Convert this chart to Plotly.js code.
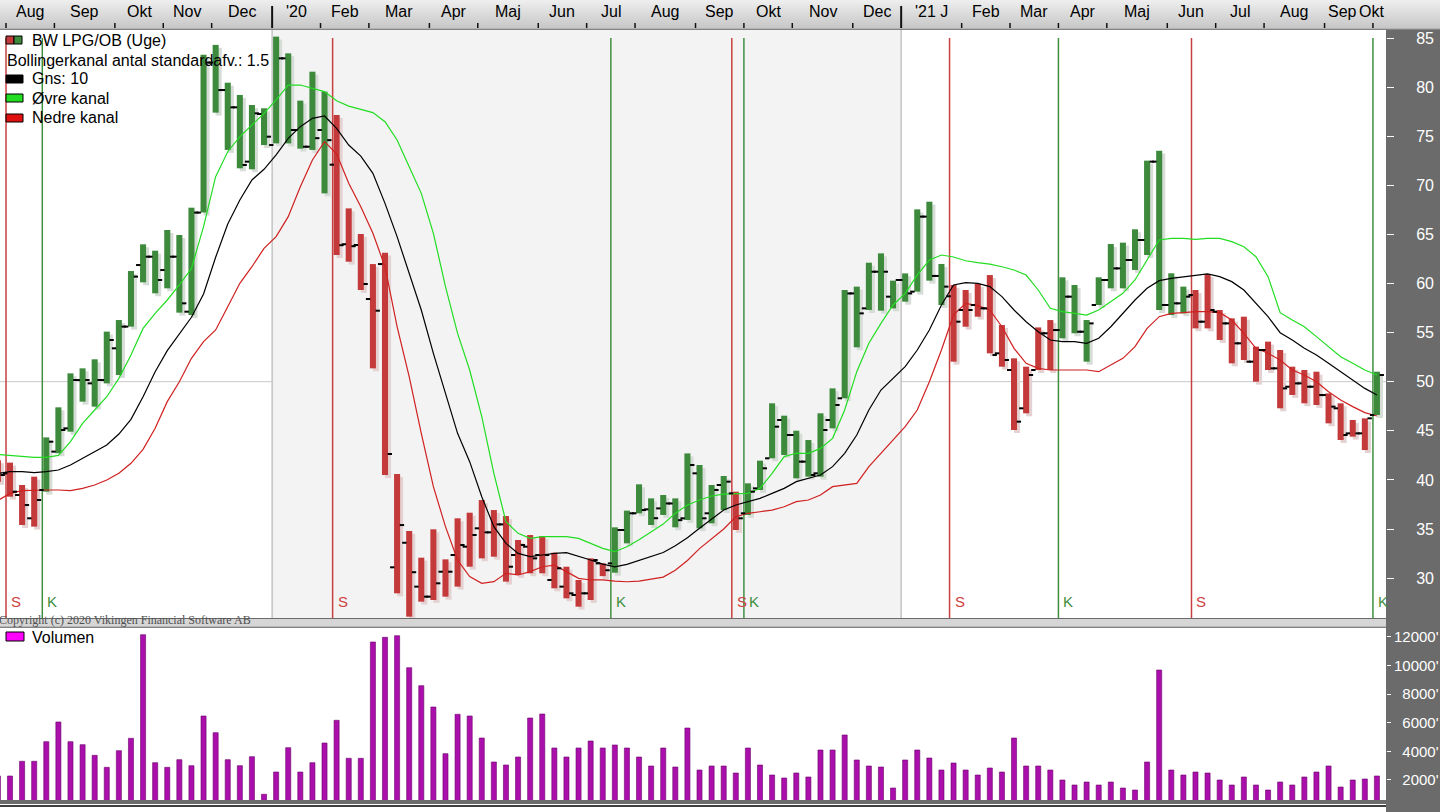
<!DOCTYPE html>
<html><head><meta charset="utf-8">
<script src="https://cdn.plot.ly/plotly-3.0.1.min.js"></script>
<style>html,body{margin:0;padding:0;background:#fff;overflow:hidden}#chart{width:1440px;height:812px}</style>
</head><body><div id="chart"></div>
<script>
// ---- DATA (weekly bars, first entry is the partly hidden week before Aug 2019) ----
const highP = [42.0,41.76,39.48,40.33,44.33,47.39,50.85,51.36,52.28,55.1,56.28,61.27,63.99,63.34,65.45,64.94,67.72,83.3,84.3,80.45,79.2,78.18,77.84,85.14,83.44,78.62,81.57,79.54,
77.16,67.65,65.04,61.98,63.14,40.6,34.8,32.08,34.97,31.91,36.09,36.66,37.95,36.93,36.32,33.88,34.39,34.29,32.59,31.16,29.81,32.01,31.51,
35.17,36.87,39.55,38.12,38.46,38.12,42.7,41.52,39.48,40.4,38.8,39.65,41.96,47.8,46.54,45.01,44.06,46.78,49.32,59.34,59.68,62.12,63.07,60.29,61.03,67.55,68.33,61.99,
59.85,59.34,59.95,60.86,55.77,52.38,51.53,55.53,56.28,60.63,59.85,56.28,60.63,64.02,64.16,65.52,72.51,73.53,61.04,59.68,
59.34,60.97,57.3,56.45,56.62,53.57,54.08,53.23,51.53,51.19,51.02,48.81,47.8,46.1,46.27,51.02];
const lowP = [39.8,38.29,35.41,35.24,38.8,42.71,44.91,47.97,47.46,49.83,50.68,55.61,60.12,59.0,59.51,57.03,56.79,67.22,77.4,73.6,71.73,71.63,74.1,74.27,74.27,73.73,73.6,69.18,
62.9,62.22,59.34,51.36,40.5,28.45,26.07,27.6,27.77,28.11,29.13,31.16,32.01,32.18,29.64,30.32,30.49,30.49,28.96,27.94,27.09,27.77,30.2,
30.55,33.54,36.6,35.41,36.43,35.17,35.92,35.07,35.58,36.93,34.9,36.43,38.97,42.2,42.54,40.16,40.33,40.33,45.25,48.31,53.5,57.3,57.23,57.47,58.15,59.17,60.29,57.81,
52.04,55.6,56.62,52.89,51.53,45.08,46.78,51.19,51.19,54.42,54.93,52.04,57.81,59.51,59.51,61.38,62.9,57.3,56.79,56.96,
55.43,55.43,54.25,51.87,52.21,50.0,51.19,47.29,48.65,47.8,47.63,45.76,44.06,44.4,43.04,46.61];
const openP = [41.5,40.67,38.46,36.09,38.97,42.88,45.25,50.17,49.83,50.17,53.4,55.61,61.88,62.73,61.37,62.73,57.13,67.22,82.5,79.7,77.94,72.41,77.26,74.1,82.93,75.63,73.93,75.63,
72.1,64.0,63.92,58.42,61.98,31.1,33.6,29.13,28.11,30.65,32.35,33.2,35.07,34.66,35.47,32.35,33.2,32.35,29.81,29.13,28.28,28.45,31.5,
31.5,34.9,36.6,37.0,37.1,37.6,36.09,40.67,36.6,39.48,38.63,36.6,39.14,42.2,46.1,44.57,41.86,40.67,46.1,48.31,58.99,57.47,61.2,58.66,60.36,59.17,66.81,60.77,
58.7,57.3,57.81,57.47,52.89,51.19,47.29,51.19,54.93,55.26,58.66,55.09,57.81,60.36,61.54,62.39,64.43,72.41,57.81,57.98,
58.83,56.11,57.13,55.94,53.91,52.04,53.23,51.36,49.49,49.83,49.49,48.64,47.29,44.74,44.74,46.61];
const closeP = [40.5,38.8,37.44,37.95,43.89,45.08,50.17,50.17,50.17,54.25,55.61,60.7,62.73,60.36,62.73,57.98,67.22,82.5,79.7,77.94,72.07,77.33,74.95,82.93,75.63,73.93,74.8,74.6,
63.9,63.8,59.95,57.23,42.64,35.4,30.6,28.11,29.47,30.65,33.37,34.39,34.66,35.47,31.16,33.37,32.01,32.35,31.0,28.45,28.45,31.84,30.8,
34.9,36.6,36.93,36.1,37.6,35.9,41.52,36.09,38.97,39.82,36.09,38.8,41.18,45.42,44.57,41.86,40.5,45.08,47.63,58.99,56.96,61.2,61.2,60.36,58.99,66.81,60.77,59.68,
56.11,57.3,57.47,52.72,52.21,45.93,50.68,54.93,55.26,58.66,55.09,55.94,60.36,61.54,62.39,64.43,72.41,57.81,57.98,58.66,
56.11,57.3,55.94,53.91,52.04,53.23,51.36,49.32,49.83,49.49,48.64,47.46,44.57,44.74,46.27,50.68];
const upperBand = [42.6,42.5,42.4,42.3,42.3,42.5,43.9,45.76,47.12,48.47,50.34,52.72,55.43,56.96,58.32,59.85,61.54,65.79,70.88,73.42,74.95,76.14,77.33,78.69,80.21,80.21,79.87,79.54,
78.6,78.07,77.73,77.4,76.48,74.61,71.9,69.18,65.11,59.68,54.92,51.19,46.44,40.67,35.75,34.56,34.05,34.22,34.22,34.22,34.05,33.54,33.03,
32.69,33.2,33.9,34.7,35.5,36.6,37.44,37.95,38.36,38.56,38.63,38.63,39.14,40.67,42.37,42.71,42.71,43.21,44.23,47.12,51.02,53.91,55.94,57.81,58.99,60.86,62.39,62.9,
62.7,62.32,62.12,61.98,61.71,61.38,60.86,59.34,57.47,57.13,56.96,56.79,57.3,58.15,59.0,60.36,62.39,64.43,64.6,64.6,
64.5,64.6,64.6,64.26,63.75,62.73,60.7,57.03,56.28,55.6,54.59,53.57,52.55,51.87,51.19,50.68];
const middleBand = [40.67,40.84,40.84,40.74,40.84,41.01,41.52,42.2,42.88,43.55,44.67,46.17,48.47,51.02,53.16,54.86,56.56,58.93,62.67,66.06,68.5,70.54,71.63,73.09,74.78,75.97,76.82,77.06,
75.8,74.1,72.98,71.22,68.16,64.77,61.04,57.3,52.89,48.81,44.74,41.86,38.29,35.24,33.54,32.52,32.18,32.35,32.52,32.59,32.25,31.84,31.43,
31.15,31.4,31.8,32.2,32.6,33.3,34.1,35.07,36.02,36.93,37.44,37.78,38.12,38.63,39.14,39.82,40.16,40.5,41.35,42.71,44.57,47.12,49.15,50.34,51.53,53.23,55.26,57.81,
59.85,60.08,60.02,59.68,58.66,57.3,56.11,55.09,54.25,54.08,54.08,53.91,54.42,55.6,56.96,58.32,59.51,60.29,60.53,60.7,
60.87,60.97,60.7,60.19,59.34,57.98,56.62,54.99,54.25,53.4,52.72,51.87,51.02,50.17,49.32,48.64];
const lowerBand = [37.9,38.63,38.9,38.97,38.97,38.97,38.9,39.14,39.48,39.99,40.67,41.69,43.11,45.25,47.97,50.0,52.38,54.08,55.27,57.64,60.02,61.71,63.58,64.77,66.81,69.86,72.58,74.44,
73.2,70.2,67.82,65.11,61.71,55.6,50.51,44.74,39.31,35.24,31.84,30.15,29.47,29.64,30.49,30.32,30.66,31.16,31.33,30.66,29.98,29.81,29.81,
29.7,29.63,29.7,29.9,30.1,30.8,31.8,33.0,34.0,35.0,36.25,36.6,36.76,36.93,37.27,37.78,37.95,38.46,39.31,39.48,39.65,41.35,42.71,44.06,45.42,47.12,50.0,53.23,
56.8,57.98,57.74,57.3,55.6,53.4,51.87,51.36,51.19,51.19,51.19,51.19,51.02,51.7,52.38,53.57,55.43,56.62,56.96,57.03,
57.13,57.13,57.03,56.28,54.93,53.4,52.89,52.21,51.19,50.68,50.0,48.98,48.13,47.46,46.85,46.51];
const volume = [2280,2280,3308,3308,4678,6056,4678,4469,3727,2888,4049,4916,12161,3210,2888,3420,3000,6476,5308,3420,3000,3629,1000,2559,4259,2559,3210,4587,
6175,3517,3517,11650,11979,12091,9853,8594,7105,3839,6594,6476,4937,3259,3049,3608,6336,6615,4238,3608,4238,4727,4238,
4448,4238,3608,2979,4238,2909,5636,2699,2979,2979,2490,4238,3049,2350,2140,2490,2210,4098,4098,5147,3399,2979,2909,1440,3399,4098,3538,2699,
3189,2699,2350,2839,2559,4937,2979,2979,2699,2000,1650,1860,1650,1860,1440,1300,3259,9692,2699,2350,
2559,2490,2000,1650,2210,1650,1300,1860,1650,2210,2559,2979,1510,2000,2070,2280];
// signals: week index and type (S = sell, K = buy)
const signalWeeks = [0,3,27,50,60,61,78,87,98,113];
const signalTypes = ['S','K','S','K','S','K','S','K','S','K'];
// top time axis: first week of each month
const monthStarts = [0,4,9,13,17,22,26,30,35,39,44,48,52,57,61,65,70,74,79,83,87,91,96,100,104,109,113];
const monthLabels = ['Aug','Sep','Okt','Nov','Dec',"'20",'Feb','Mar','Apr','Maj','Jun','Jul','Aug','Sep','Okt','Nov','Dec',"'21 J",'Feb','Mar','Apr','Maj','Jun','Jul','Aug','Sep','Okt'];
const yearStarts = [22,74];
const priceTicks = [30,35,40,45,50,55,60,65,70,75,80,85];
const volumeTicks = [2000,4000,6000,8000,10000,12000];
const legendTexts = ['BW LPG/OB (Uge)','Bollingerkanal antal standardafv.: 1.5','Gns: 10','Øvre kanal','Nedre kanal'];

// ---- GEOMETRY ----
const W = 1440, H = 812, PLOT_R = 1386;
const weekIndex = highP.map((_, k) => k - 1);
const X0 = -0.8267, X1 = 113.75;
const edge = -0.33;           // left edge of a week slot (signal lines / month ticks)
const px = p => p / PLOT_R;    // pixel -> paper x
const py = p => 1 - p / H;     // pixel -> paper y
const FONT = 'Liberation Sans, Arial, sans-serif';
const GREEN = '#3d8a3d', RED = '#c43a3a';

const barColors = weekIndex.map(w => {
  let t = 'S';
  signalWeeks.forEach((s, j) => { if (s <= w) t = signalTypes[j]; });
  return t === 'S' ? RED : GREEN;
});
const shadowColors = barColors.map(c => c === RED ? '#e4d2d2' : '#d6dcd6');

const tx = [], ty = [];
weekIndex.forEach((w, k) => {
  tx.push(w - 0.58, w - 0.22, null, w + 0.22, w + 0.58, null);
  ty.push(openP[k], openP[k], null, closeP[k], closeP[k], null);
});

const traces = [
  {type:'bar', x: weekIndex.map(w => w + 0.25), base: lowP.map(v => v - 0.3), y: highP.map((h, k) => h - lowP[k]),
   width: 0.5, marker:{color: shadowColors}, hoverinfo:'skip', showlegend:false},
  {type:'bar', x: weekIndex, base: lowP, y: highP.map((h, k) => h - lowP[k]),
   width: 0.5, marker:{color: barColors}, hoverinfo:'skip', showlegend:false},
  {type:'scatter', mode:'lines', x: weekIndex, y: upperBand, line:{color:'#22dd22', width:1.2}, hoverinfo:'skip', showlegend:false},
  {type:'scatter', mode:'lines', x: weekIndex, y: middleBand, line:{color:'#000000', width:1.2}, hoverinfo:'skip', showlegend:false},
  {type:'scatter', mode:'lines', x: weekIndex, y: lowerBand, line:{color:'#d02020', width:1.2}, hoverinfo:'skip', showlegend:false},
  {type:'scatter', mode:'lines', x: tx, y: ty, line:{color:'#000000', width:2}, hoverinfo:'skip', showlegend:false, connectgaps:false},
  {type:'bar', x: weekIndex, y: volume, yaxis:'y2', width: 0.42,
   marker:{color:'#ab0fab', line:{color:'#6a006a', width:0.6}}, hoverinfo:'skip', showlegend:false}
];

const shapes = [];
const annotations = [];
shapes.push({type:'rect', xref:'x', yref:'y', x0: yearStarts[0] + edge, x1: yearStarts[1] + edge, y0: 25.9, y1: 85.9,
  fillcolor:'#f3f3f3', line:{width:0}, layer:'below'});
yearStarts.forEach(w => shapes.push({type:'line', xref:'x', yref:'y', x0: w + edge, x1: w + edge, y0: 25.9, y1: 85.9,
  line:{color:'#c4c4c4', width:1.5}, layer:'below'}));
shapes.push({type:'line', xref:'paper', yref:'y', x0:0, x1:1, y0:50, y1:50, line:{color:'#c8c8c8', width:1}, layer:'below'});
signalWeeks.forEach((w, j) => {
  const c = signalTypes[j] === 'S' ? '#c84040' : '#3f8f3f';
  shapes.push({type:'line', xref:'x', yref:'y', x0: w + edge, x1: w + edge, y0: 85, y1: 25.9, line:{color:c, width:1.5}, layer:'below'});
  annotations.push({xref:'x', yref:'paper', x: w + edge, xshift: 10, y: py(601), yanchor:'middle', text: signalTypes[j], showarrow:false,
    font:{family:FONT, size:15, color: signalTypes[j] === 'S' ? '#d04040' : '#3f8f3f'}});
});
// top band (smooth gradient, 1px strips)
for (let k = 0; k < 29; k++) {
  const g = Math.round(238 - k * 40 / 28);
  const c = 'rgb(' + g + ',' + g + ',' + g + ')';
  shapes.push({type:'rect', xref:'paper', yref:'paper', x0:0, x1: W / PLOT_R, y0: py(k + 1), y1: py(k),
    fillcolor:c, line:{width:0}, layer:'below'});
}
shapes.push({type:'line', xref:'paper', yref:'paper', x0:0, x1: W / PLOT_R, y0: py(29), y1: py(29), line:{color:'#a0a0a0', width:1}});
monthStarts.forEach(w => {
  const yr = yearStarts.includes(w);
  shapes.push({type:'line', xref:'x', yref:'paper', x0: w + edge, x1: w + edge, y0: py(yr ? 6 : 23), y1: py(28),
    line:{color:'#111', width: yr ? 2 : 1.5}});
});
monthLabels.forEach((t, k) => {
  const last = k === monthLabels.length - 1;
  const x = last ? X1 : (monthStarts[k] + monthStarts[k + 1]) / 2 + edge;
  annotations.push({xref:'x', yref:'paper', x, y: py(12), yanchor:'middle', text: t, showarrow:false,
    xanchor: last ? 'right' : 'center', xshift: k === monthLabels.length - 2 ? -6 : 0,
    font:{family:FONT, size:16, color:'#000'}});
});
// right dark axis panel
shapes.push({type:'rect', xref:'paper', yref:'paper', x0:1, x1: W / PLOT_R, y0:0, y1: py(29), fillcolor:'#6b6b6b', line:{width:0}, layer:'below'});
// separator between panels, bottom line
shapes.push({type:'rect', xref:'paper', yref:'paper', x0:0, x1:1, y0: py(627), y1: py(619), fillcolor:'#d6d6d6', line:{width:0}});
shapes.push({type:'line', xref:'paper', yref:'paper', x0:0, x1:1, y0: py(627), y1: py(627), line:{color:'#9a9a9a', width:1}});
shapes.push({type:'rect', xref:'paper', yref:'paper', x0:0, x1:1, y0: py(812), y1: py(804), fillcolor:'#ffffff', line:{width:0}});
shapes.push({type:'line', xref:'paper', yref:'paper', x0:0, x1:1, y0: py(806), y1: py(806), line:{color:'#404040', width:2}});
// legend icons
const legendIcons = [[RED, GREEN], ['#000000'], ['#22dd22'], ['#e01010']];
const legendY = [40, 79, 98, 118];
legendIcons.forEach((cols, k) => {
  const yc = legendY[k];
  if (cols.length === 2) {
    shapes.push({type:'rect', xref:'paper', yref:'paper', x0: px(6), x1: px(14), y0: py(yc + 4), y1: py(yc - 4), fillcolor: cols[0], line:{color:'#000', width:1}});
    shapes.push({type:'rect', xref:'paper', yref:'paper', x0: px(14), x1: px(22), y0: py(yc + 4), y1: py(yc - 4), fillcolor: cols[1], line:{color:'#000', width:1}});
  } else {
    shapes.push({type:'rect', xref:'paper', yref:'paper', x0: px(6), x1: px(23), y0: py(yc + 4), y1: py(yc - 4), fillcolor: cols[0], line:{color:'#000', width:1}});
  }
});
const legendTextPos = [[30, 40], [5, 60], [30, 79], [30, 98], [30, 118]];
legendTexts.forEach((t, k) => annotations.push({xref:'paper', yref:'paper', x: px(legendTextPos[k][0]), y: py(legendTextPos[k][1]),
  xanchor:'left', yanchor:'middle', text: t, showarrow:false, font:{family:FONT, size:16, color:'#000'}}));
shapes.push({type:'rect', xref:'paper', yref:'paper', x0: px(6), x1: px(24), y0: py(641), y1: py(632), fillcolor:'#ff00ff', line:{color:'#000', width:1}});
annotations.push({xref:'paper', yref:'paper', x: px(30), y: py(637), xanchor:'left', yanchor:'middle', text:'Volumen', showarrow:false,
  font:{family:FONT, size:16, color:'#000'}});
annotations.push({xref:'paper', yref:'paper', x: px(-3), y: py(620), xanchor:'left', yanchor:'middle',
  text:'Copyright (c) 2020 Vikingen Financial Software AB', showarrow:false, font:{family:'Liberation Serif, serif', size:12, color:'#505050'}});

const volLabel = v => { const s = String(v) + "'"; return (s.length < 6 ? '\u2007' : '') + s; };

const layout = {
  width: W, height: H, margin:{l:0, r: W - PLOT_R, t:0, b:0},
  paper_bgcolor:'#6b6b6b', plot_bgcolor:'#ffffff', barmode:'overlay', showlegend:false,
  xaxis:{range:[X0, X1], showgrid:false, zeroline:false, showticklabels:false, ticks:'', showline:false, fixedrange:true},
  yaxis:{domain:[py(618), py(30)], range:[25.937, 85.815], side:'right', tickvals: priceTicks, ticks:'outside', ticklen:7,
    tickcolor:'#ffffff', tickwidth:1, showgrid:false, zeroline:false, showline:false, ticklabelstandoff:19,
    tickfont:{family:FONT, size:16, color:'#ffffff'}},
  yaxis2:{domain:[py(800), py(628)], range:[601, 12629], side:'right', anchor:'x', tickvals: volumeTicks,
    ticktext: volumeTicks.map(volLabel), ticks:'outside', ticklen:4, tickcolor:'#ffffff', showgrid:false, zeroline:false,
    showline:false, tickfont:{family:FONT, size:15, color:'#ffffff'}},
  shapes, annotations
};
Plotly.newPlot('chart', traces, layout, {staticPlot:true, displayModeBar:false});
</script></body></html>
